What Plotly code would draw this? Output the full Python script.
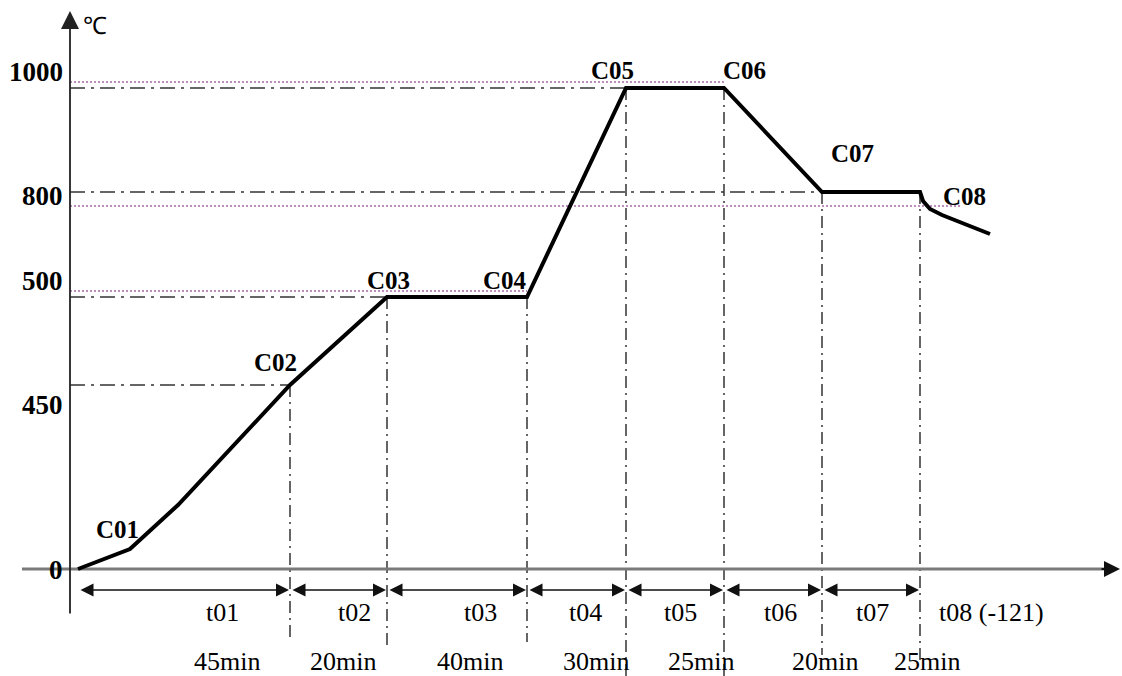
import plotly.graph_objects as go

# ---- schematic data (x: schematic time position, y: schematic temperature height) ----
curve_x = [8, 60, 108, 220, 317, 457, 556, 654, 752, 850, 853, 860, 872, 920]
curve_y = [0, 20, 64, 184, 272, 272, 481, 481, 377, 377, 368, 360, 354, 335]

point_labels = ["C01", "C02", "C03", "C04", "C05", "C06", "C07", "C08"]
point_label_x = [47, 205, 318, 435, 542, 674, 782, 894]
point_label_y = [40, 207, 289, 289, 499, 499, 416, 373]

stage_bounds = [8, 220, 317, 457, 556, 654, 752, 850]
stage_tops = [184, 272, 272, 481, 481, 377, 377]
stage_line_bottom = [-71, -81, -73, -107, -107, -86, -93]
stage_names = ["t01", "t02", "t03", "t04", "t05", "t06", "t07", "t08 (-121)"]
stage_name_x = [152, 284, 410, 515, 610, 710, 802, 921]
durations = ["45min", "20min", "40min", "30min", "25min", "20min", "25min"]
duration_x = [157, 273, 400, 526, 631, 755, 857]

temp_labels = ["0", "450", "500", "800", "1000"]
temp_label_y = [-1, 164, 288, 373, 497]

dashdot_level_y = [184, 272, 377, 481]
dashdot_level_end = [220, 317, 752, 556]
dotted_level_y = [278, 363, 487]
dotted_level_end = [457, 890, 655]

x_axis_span = [-48, 1040]
y_axis_span = [-46, 558]

SERIF = "Liberation Serif"
fig = go.Figure()

# dotted pink guide lines
for yv, xe in zip(dotted_level_y, dotted_level_end):
    fig.add_trace(go.Scatter(x=[0, xe], y=[yv, yv], mode="lines",
                             line=dict(color="#a868a8", width=1.5, dash="2px,2px"),
                             hoverinfo="skip", showlegend=False))
# dash-dot horizontal guide lines
for yv, xe in zip(dashdot_level_y, dashdot_level_end):
    fig.add_trace(go.Scatter(x=[0, xe], y=[yv, yv], mode="lines",
                             line=dict(color="#333333", width=1.5, dash="15px,6px,3px,6px"),
                             hoverinfo="skip", showlegend=False))
# vertical dash-dot stage lines
for xv, yt, yb in zip(stage_bounds[1:], stage_tops, stage_line_bottom):
    fig.add_trace(go.Scatter(x=[xv, xv], y=[yt, yb], mode="lines",
                             line=dict(color="#333333", width=1.5, dash="12px,5px,2px,5px"),
                             hoverinfo="skip", showlegend=False))

# x axis line (gray)
fig.add_trace(go.Scatter(x=x_axis_span, y=[0, 0], mode="lines",
                         line=dict(color="#7a7a7a", width=3),
                         hoverinfo="skip", showlegend=False))

# main curve
fig.add_trace(go.Scatter(x=curve_x, y=curve_y, mode="lines",
                         line=dict(color="black", width=4, shape="linear"),
                         hoverinfo="skip", showlegend=False))

ann = []
# axis arrowheads
ann.append(dict(x=1050, y=0, ax=1030, ay=0, xref="x", yref="y", axref="x", ayref="y",
                showarrow=True, arrowhead=2, arrowsize=1.6, arrowwidth=2,
                arrowcolor="#111111", text=""))
ann.append(dict(x=0, y=y_axis_span[1], ax=0, ay=y_axis_span[0], xref="x", yref="y",
                axref="x", ayref="y",
                showarrow=True, arrowhead=2, arrowsize=2, arrowwidth=1.8,
                arrowcolor="#222222", text=""))
# dimension arrows
for a, b in zip(stage_bounds[:-1], stage_bounds[1:]):
    ann.append(dict(x=b - 1, y=-21, ax=a + 1, ay=-21, xref="x", yref="y", axref="x", ayref="y",
                    showarrow=True, arrowhead=2, arrowside="end+start", arrowsize=2,
                    arrowwidth=1.3, arrowcolor="#111111", text=""))
# point labels
for t, xv, yv in zip(point_labels, point_label_x, point_label_y):
    ann.append(dict(x=xv, y=yv, xref="x", yref="y", text="<b>" + t + "</b>", showarrow=False,
                    font=dict(family=SERIF, size=25, color="black")))
# temperature labels
for t, yv in zip(temp_labels, temp_label_y):
    ann.append(dict(x=-5, y=yv, xref="x", yref="y", text="<b>" + t + "</b>", showarrow=False,
                    xanchor="right", font=dict(family=SERIF, size=27, color="black")))
ann.append(dict(x=25, y=543, xref="x", yref="y", text="℃", showarrow=False,
                font=dict(family=SERIF, size=24, color="black")))
# stage names and durations
for t, xv in zip(stage_names, stage_name_x):
    ann.append(dict(x=xv, y=-43, xref="x", yref="y", text=t, showarrow=False,
                    font=dict(family=SERIF, size=26, color="black")))
for t, xv in zip(durations, duration_x):
    ann.append(dict(x=xv, y=-92, xref="x", yref="y", text=t, showarrow=False,
                    font=dict(family=SERIF, size=26, color="black")))

fig.update_layout(
    width=1122, height=676,
    margin=dict(l=0, r=0, t=0, b=0),
    paper_bgcolor="white", plot_bgcolor="white",
    xaxis=dict(range=[-70, 1052], visible=False, fixedrange=True),
    yaxis=dict(range=[-107, 569], visible=False, fixedrange=True),
    annotations=ann,
    showlegend=False,
)
fig.write_html("out.html", config={"displayModeBar": False},
               post_script="document.body.style.margin='0px';document.body.style.overflow='hidden';")
